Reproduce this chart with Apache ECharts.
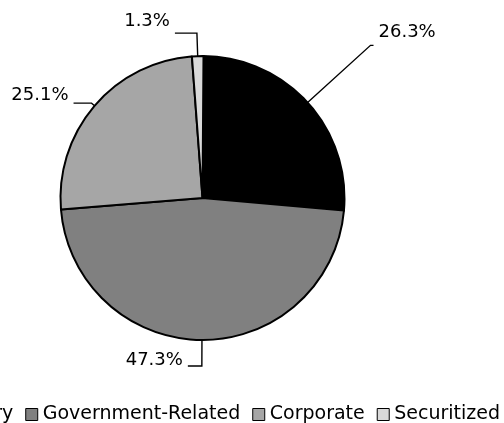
<!DOCTYPE html>
<html>
<head>
<meta charset="utf-8">
<script src="https://cdn.jsdelivr.net/npm/echarts@6/dist/echarts.min.js"></script>
<style>
html,body{margin:0;padding:0;background:#fff;}
#chart{width:504px;height:423px;}
</style>
</head>
<body>
<div id="chart"></div>
<script>
var categories = ['Treasury', 'Government-Related', 'Corporate', 'Securitized'];
var shares = [26.3, 47.3, 25.1, 1.3];
var sliceColors = ['#000000', '#808080', '#a6a6a6', '#d9d9d9'];

// leader line lengths per slice [length, length2] and label line heights
var leader = [[85, 3], [26, 14], [4, 18], [23, 22]];
var labelLineHeights = [26, 12, 16, 24];

var FONT = 'DejaVu Sans';

var chart = echarts.init(document.getElementById('chart'), null, {renderer: 'canvas'});

var data = categories.map(function (name, i) {
  return {
    name: name,
    value: shares[i],
    itemStyle: {color: sliceColors[i]},
    label: {lineHeight: labelLineHeights[i]},
    labelLine: {length: leader[i][0], length2: leader[i][1]}
  };
});

chart.setOption({
  animation: false,
  backgroundColor: '#ffffff',
  legend: {
    data: categories,
    right: 4,
    top: 405,
    width: 1000,
    padding: 0,
    itemGap: 12,
    itemWidth: 12,
    itemHeight: 12,
    icon: 'rect',
    selectedMode: false,
    itemStyle: {borderColor: '#000', borderWidth: 1},
    textStyle: {fontFamily: FONT, fontSize: 19, color: '#000'}
  },
  series: [{
    type: 'pie',
    center: [202.5, 198],
    radius: 142,
    startAngle: 89.6,
    clockwise: true,
    avoidLabelOverlap: false,
    silent: true,
    data: data,
    itemStyle: {borderColor: '#000', borderWidth: 2},
    label: {
      show: true,
      position: 'outside',
      formatter: function (p) { return p.value.toFixed(1) + '%\n '; },
      fontFamily: FONT,
      fontSize: 18,
      color: '#000',
      distanceToLabelLine: 5
    },
    labelLine: {
      show: true,
      smooth: false,
      lineStyle: {color: '#000', width: 1.4}
    },
    emphasis: {disabled: true}
  }]
});
</script>
</body>
</html>
